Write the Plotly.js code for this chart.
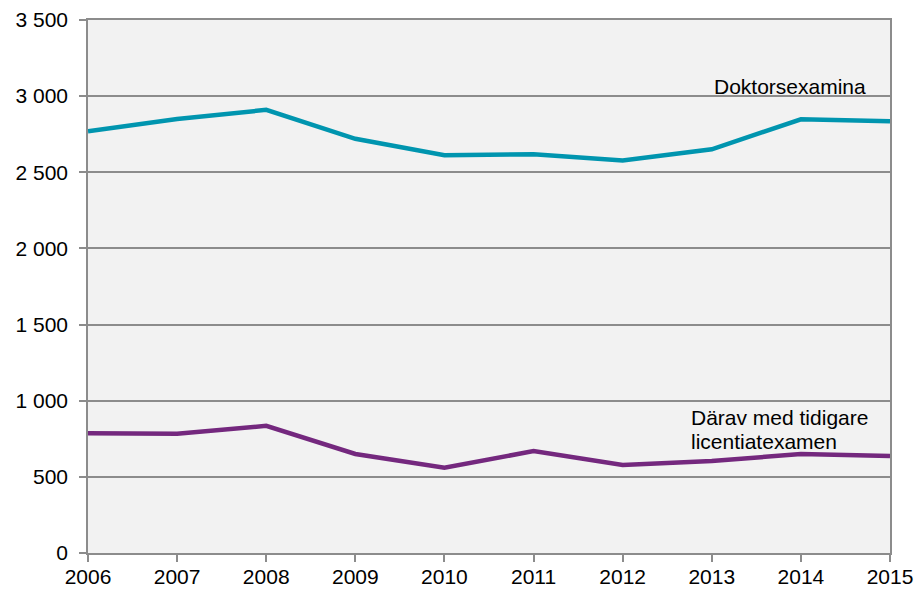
<!DOCTYPE html>
<html><head><meta charset="utf-8">
<script src="https://cdn.plot.ly/plotly-3.0.1.min.js"></script>
<style>html,body{margin:0;padding:0;background:#fff}#chart{width:921px;height:589px}</style>
</head><body><div id="chart"></div>
<script>
const years = [2006, 2007, 2008, 2009, 2010, 2011, 2012, 2013, 2014, 2015];
const doktorsexamina = [2770, 2850, 2910, 2720, 2612, 2618, 2578, 2651, 2848, 2835];
const licentiat = [787, 783, 835, 650, 560, 669, 578, 604, 650, 637];
const yTicks = [0, 500, 1000, 1500, 2000, 2500, 3000, 3500];
const labelDoktor = 'Doktorsexamina';
const labelLic = ['Därav med tidigare', 'licentiatexamen'];

const traces = [
  {x: years, y: doktorsexamina, type: 'scatter', mode: 'lines', name: 'Doktorsexamina',
   line: {color: '#0095AF', width: 4.5}},
  {x: years, y: licentiat, type: 'scatter', mode: 'lines', name: 'Därav med tidigare licentiatexamen',
   line: {color: '#74287E', width: 4.5}}
];
const font = {family: 'Liberation Sans, Arial, sans-serif', size: 21, color: '#000'};
const layout = {
  width: 921, height: 589,
  margin: {l: 88, r: 31, t: 20, b: 36},
  paper_bgcolor: '#ffffff', plot_bgcolor: '#f2f2f2',
  separators: ', ',
  showlegend: false,
  font: font,
  xaxis: {range: [2006, 2015], tickvals: years, ticks: 'outside', ticklen: 7, tickcolor: '#8c8c8c',
          tickwidth: 1.5, ticklabelstandoff: -3, showgrid: false, zeroline: false, showline: true,
          linecolor: '#8c8c8c', linewidth: 1.5, mirror: true, tickfont: font},
  yaxis: {range: [0, 3500], tickvals: yTicks, tickformat: ',d', ticks: 'outside', ticklen: 7,
          tickwidth: 1.5, ticklabelstandoff: 7,
          tickcolor: '#8c8c8c', showgrid: true, gridcolor: '#8c8c8c', gridwidth: 1.5, zeroline: false,
          showline: true, linecolor: '#8c8c8c', linewidth: 1.5, mirror: true, tickfont: font},
  annotations: [
    {x: 2014.75, y: 3064, xref: 'x', yref: 'y', text: labelDoktor, showarrow: false,
     xanchor: 'right', yanchor: 'middle', font: font},
    {x: 2012.745, y: 892, xref: 'x', yref: 'y', text: labelLic[0], showarrow: false,
     xanchor: 'left', yanchor: 'middle', align: 'left', font: font},
    {x: 2012.745, y: 735, xref: 'x', yref: 'y', text: labelLic[1], showarrow: false,
     xanchor: 'left', yanchor: 'middle', align: 'left', font: font}
  ]
};
Plotly.newPlot('chart', traces, layout, {displayModeBar: false});
</script></body></html>
